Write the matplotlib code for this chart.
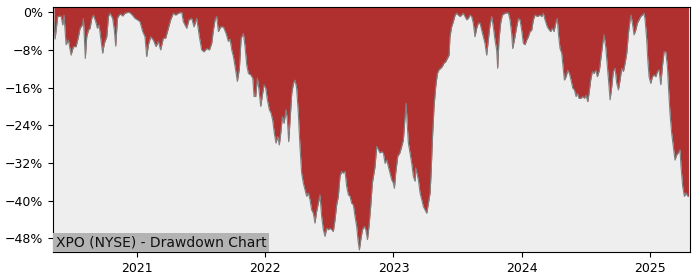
import matplotlib
matplotlib.use("Agg")
import matplotlib.pyplot as plt
import matplotlib.dates as mdates
from matplotlib.ticker import MultipleLocator, FuncFormatter
import numpy as np
import pandas as pd

titulo = "XPO (NYSE) - Drawdown Chart"

# data, em anos decimais
anos = [
    2020.353, 2020.361, 2020.382, 2020.408, 2020.421, 2020.431, 2020.447, 2020.465,
    2020.486, 2020.504, 2020.525, 2020.543, 2020.556, 2020.574, 2020.582, 2020.590,
    2020.597, 2020.608, 2020.621, 2020.634, 2020.647, 2020.660, 2020.678, 2020.691,
    2020.704, 2020.719, 2020.732, 2020.745, 2020.764, 2020.777, 2020.790, 2020.810,
    2020.823, 2020.834, 2020.847, 2020.860, 2020.873, 2020.888, 2020.906, 2020.932,
    2020.945, 2020.964, 2020.984, 2021.003, 2021.023, 2021.044, 2021.062, 2021.075,
    2021.091, 2021.107, 2021.127, 2021.148, 2021.166, 2021.184, 2021.205, 2021.223,
    2021.244, 2021.262, 2021.283, 2021.301, 2021.322, 2021.348, 2021.361, 2021.374,
    2021.387, 2021.405, 2021.426, 2021.444, 2021.465, 2021.486, 2021.504, 2021.522,
    2021.543, 2021.564, 2021.582, 2021.595, 2021.608, 2021.621, 2021.634, 2021.652,
    2021.673, 2021.694, 2021.712, 2021.725, 2021.738, 2021.751, 2021.764, 2021.782,
    2021.798, 2021.811, 2021.829, 2021.842, 2021.855, 2021.868, 2021.886, 2021.902,
    2021.912, 2021.925, 2021.938, 2021.951, 2021.964, 2021.977, 2021.990, 2022.003,
    2022.016, 2022.031, 2022.044, 2022.057, 2022.070, 2022.083, 2022.096, 2022.109,
    2022.120, 2022.133, 2022.146, 2022.161, 2022.172, 2022.182, 2022.193, 2022.206,
    2022.219, 2022.231, 2022.244, 2022.257, 2022.270, 2022.283, 2022.296, 2022.309,
    2022.322, 2022.335, 2022.348, 2022.361, 2022.374, 2022.387, 2022.400, 2022.413,
    2022.426, 2022.439, 2022.452, 2022.465, 2022.478, 2022.491, 2022.504, 2022.517,
    2022.530, 2022.543, 2022.556, 2022.569, 2022.582, 2022.595, 2022.608, 2022.621,
    2022.634, 2022.647, 2022.660, 2022.673, 2022.686, 2022.699, 2022.712, 2022.725,
    2022.733, 2022.744, 2022.757, 2022.772, 2022.783, 2022.796, 2022.808, 2022.821,
    2022.834, 2022.855, 2022.868, 2022.881, 2022.894, 2022.907, 2022.920, 2022.933,
    2022.946, 2022.959, 2022.972, 2022.985, 2022.998, 2023.006, 2023.016, 2023.032,
    2023.048, 2023.063, 2023.076, 2023.089, 2023.097, 2023.107, 2023.115, 2023.128,
    2023.141, 2023.154, 2023.167, 2023.172, 2023.193, 2023.206, 2023.219, 2023.232,
    2023.245, 2023.258, 2023.271, 2023.284, 2023.292, 2023.302, 2023.315, 2023.328,
    2023.341, 2023.354, 2023.367, 2023.380, 2023.393, 2023.406, 2023.419, 2023.432,
    2023.439, 2023.452, 2023.465, 2023.479, 2023.492, 2023.504, 2023.518, 2023.530,
    2023.543, 2023.556, 2023.570, 2023.582, 2023.595, 2023.608, 2023.621, 2023.634,
    2023.647, 2023.660, 2023.673, 2023.686, 2023.699, 2023.712, 2023.725, 2023.738,
    2023.751, 2023.764, 2023.777, 2023.790, 2023.803, 2023.811, 2023.821, 2023.834,
    2023.847, 2023.868, 2023.894, 2023.907, 2023.920, 2023.928, 2023.941, 2023.959,
    2023.972, 2023.985, 2023.998, 2024.011, 2024.024, 2024.037, 2024.050, 2024.063,
    2024.076, 2024.089, 2024.102, 2024.120, 2024.141, 2024.154, 2024.167, 2024.180,
    2024.198, 2024.214, 2024.224, 2024.237, 2024.250, 2024.266, 2024.276, 2024.284,
    2024.297, 2024.310, 2024.323, 2024.331, 2024.344, 2024.357, 2024.370, 2024.383,
    2024.396, 2024.409, 2024.422, 2024.432, 2024.445, 2024.458, 2024.474, 2024.487,
    2024.500, 2024.513, 2024.523, 2024.536, 2024.549, 2024.562, 2024.575, 2024.588,
    2024.604, 2024.617, 2024.630, 2024.640, 2024.653, 2024.666, 2024.679, 2024.687,
    2024.700, 2024.712, 2024.726, 2024.739, 2024.752, 2024.765, 2024.778, 2024.791,
    2024.804, 2024.817, 2024.830, 2024.843, 2024.850, 2024.863, 2024.874, 2024.887,
    2024.900, 2024.913, 2024.926, 2024.939, 2024.952, 2024.960, 2024.973, 2024.981,
    2024.991, 2025.004, 2025.017, 2025.030, 2025.043, 2025.056, 2025.069, 2025.082,
    2025.095, 2025.108, 2025.121, 2025.134, 2025.142, 2025.154, 2025.167, 2025.180,
    2025.193, 2025.206, 2025.219, 2025.232, 2025.240, 2025.253, 2025.266, 2025.279,
    2025.292, 2025.298,
]

# drawdown em %
drawdown = [
    -2.0, -5.7, -0.9, -0.8, -2.7, -0.6, -6.9, -5.9,
    -9.1, -7.3, -7.3, -5.2, -3.4, -2.7, -1.3, -5.9,
    -9.8, -5.2, -3.8, -3.4, -1.3, -0.6, -2.0, -3.4,
    -2.7, -5.9, -8.7, -6.6, -5.2, -0.9, -0.2, -1.3,
    -3.8, -7.2, -1.3, -0.6, -0.4, -0.8, -0.2, 0.0,
    -0.1, -0.6, -1.3, -1.6, -2.0, -4.1, -5.2, -9.4,
    -6.6, -5.2, -5.9, -7.3, -6.2, -8.0, -5.5, -5.5,
    -3.4, -1.6, -0.2, -0.6, -0.2, 0.0, -2.0, -2.7,
    -3.4, -1.6, -1.3, -3.1, -1.3, -5.2, -8.0, -8.4,
    -7.7, -8.0, -6.6, -3.8, -1.6, -0.9, -4.1, -3.1,
    -3.1, -4.5, -6.2, -5.7, -8.0, -9.4, -11.5, -14.7,
    -11.9, -5.5, -4.5, -7.3, -11.2, -13.0, -13.3, -14.0,
    -17.9, -17.9, -14.0, -16.5, -20.0, -17.6, -15.4, -16.1,
    -18.6, -20.7, -21.4, -22.9, -25.7, -27.8, -26.4, -28.2,
    -25.7, -22.2, -23.6, -20.7, -22.9, -27.5, -22.9, -17.2,
    -15.1, -14.4, -16.1, -21.4, -28.5, -34.2, -36.3, -37.7,
    -39.1, -38.4, -39.8, -42.0, -42.7, -44.8, -42.3, -40.6,
    -38.8, -43.4, -46.2, -47.6, -45.9, -46.2, -45.9, -46.2,
    -46.6, -44.1, -40.9, -39.1, -34.9, -33.8, -34.2, -33.8,
    -37.0, -38.8, -39.1, -40.6, -40.9, -43.4, -45.5, -49.1,
    -50.5, -48.3, -46.2, -45.5, -46.2, -48.3, -45.5, -41.3,
    -36.3, -32.8, -28.5, -29.2, -29.9, -29.6, -29.9, -32.1,
    -31.4, -32.8, -34.2, -35.6, -36.3, -37.4, -34.2, -30.6,
    -29.9, -28.5, -27.1, -22.2, -19.3, -24.3, -27.8, -29.9,
    -32.1, -34.9, -35.9, -33.1, -35.6, -38.4, -39.8, -41.3,
    -42.0, -42.7, -40.6, -38.4, -34.2, -27.1, -20.0, -15.8,
    -13.0, -12.2, -11.9, -11.5, -10.8, -10.5, -9.8, -9.1,
    -5.2, -3.1, -2.0, -0.6, -0.2, -0.6, -0.9, -0.6,
    -0.2, -0.9, -1.6, -1.3, -0.6, -0.9, -2.3, -5.2,
    -3.4, -2.3, -2.3, -3.8, -5.2, -6.6, -9.1, -5.9,
    -2.7, -0.9, -3.1, -5.9, -8.0, -11.9, -5.9, -2.3,
    -0.6, -0.2, -0.1, -1.6, -4.5, -7.7, -5.9, -3.1,
    -1.3, -1.6, -3.8, -6.6, -6.9, -5.9, -5.2, -4.1,
    -3.8, -1.6, -0.6, -0.9, -0.6, -0.9, -0.2, -1.6,
    -3.1, -3.8, -4.1, -3.4, -4.1, -2.0, -1.3, -4.5,
    -7.7, -8.7, -12.3, -14.4, -13.7, -12.3, -13.0, -14.4,
    -16.1, -16.5, -17.9, -17.2, -18.3, -18.3, -17.9, -18.3,
    -17.6, -19.0, -17.2, -14.4, -12.6, -13.0, -12.3, -13.7,
    -12.3, -9.4, -6.6, -4.8, -7.3, -11.5, -15.8, -18.6,
    -15.8, -12.6, -11.9, -15.1, -16.5, -14.4, -11.9, -12.6,
    -10.8, -8.7, -4.5, -1.6, -0.6, -2.7, -4.8, -3.8,
    -2.3, -1.6, -0.9, -0.6, -0.2, -1.6, -5.9, -10.1,
    -13.7, -15.1, -13.7, -13.3, -13.7, -12.6, -12.2, -15.4,
    -11.5, -8.4, -8.4, -11.5, -15.8, -21.4, -25.7, -28.5,
    -31.4, -30.3, -29.9, -29.2, -32.8, -37.0, -39.1, -38.4,
    -39.1, -39.1,
]


def ano_para_data(a):
    a = np.asarray(a)
    return pd.Timestamp("2021-01-01") + pd.to_timedelta((a - 2021) * 365.25, unit="D")


datas = ano_para_data(anos)
dd = np.array(drawdown)
y_topo = 1.06

fig = plt.figure(figsize=(7, 2.8), dpi=100)
ax = fig.add_axes([0.0757, 0.099, 0.91, 0.875])
ax.set_facecolor("#eeeeee")

# preenche da curva ate o topo do eixo
ax.fill_between(datas, dd, y_topo, color="#b03030", linewidth=0)
ax.plot(datas, dd, color="#808080", linewidth=0.8)

ax.set_xlim(ano_para_data(2020.345), ano_para_data(2025.31))
ax.set_ylim(-51.0, y_topo)

ax.yaxis.set_major_locator(MultipleLocator(8))
ax.yaxis.set_major_formatter(FuncFormatter(lambda v, p: ("%.0f%%" % v).replace("-", "\u2212")))
ax.xaxis.set_major_locator(mdates.YearLocator())
ax.xaxis.set_major_formatter(mdates.DateFormatter("%Y"))
ax.tick_params(labelsize=9)

ax.text(0.004, 0.012, titulo, transform=ax.transAxes, fontsize=10, color="#111111",
        ha="left", va="bottom",
        bbox=dict(facecolor="#b3b3b3", edgecolor="none", pad=2))

fig.savefig("out.png", dpi=100)
